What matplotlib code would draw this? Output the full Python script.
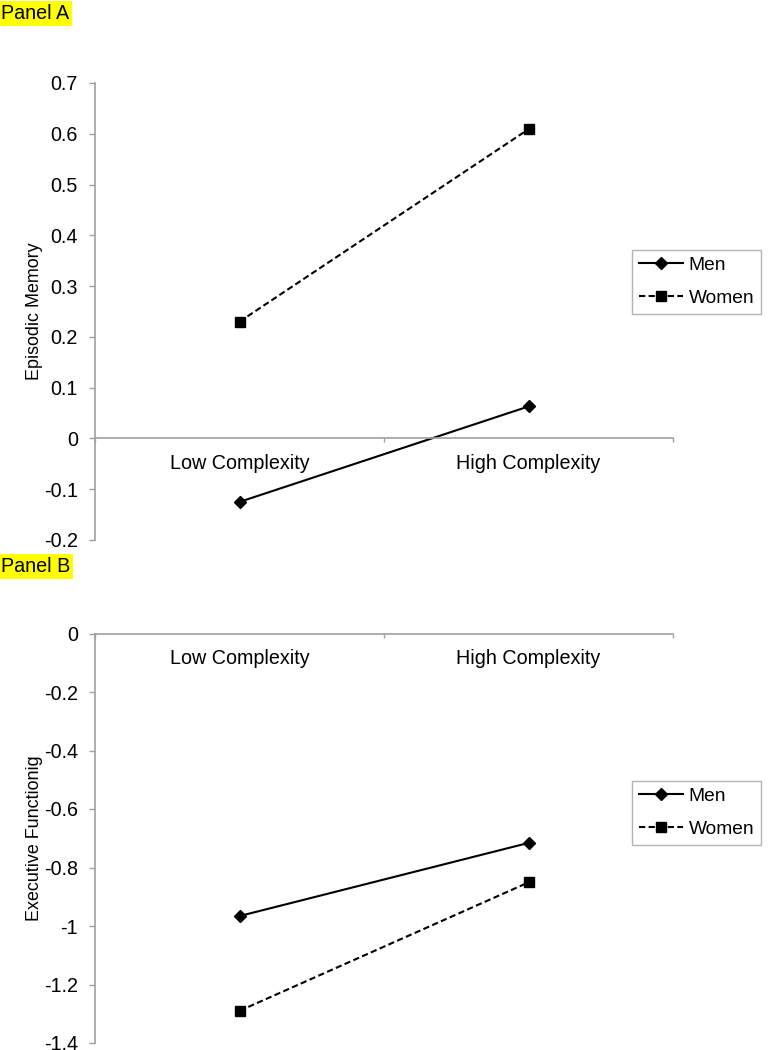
import matplotlib
matplotlib.use("Agg")
import matplotlib.pyplot as plt
from matplotlib.ticker import FixedLocator, NullFormatter

plt.rcParams['font.family'] = ['Liberation Sans', 'DejaVu Sans']

categories = ["Low Complexity", "High Complexity"]
series = ["Men", "Women"]

episodic_men = [-0.125, 0.063]
episodic_women = [0.230, 0.609]
exec_men = [-0.966, -0.716]
exec_women = [-1.290, -0.851]

ep_ticks = [-0.2, -0.1, 0, 0.1, 0.2, 0.3, 0.4, 0.5, 0.6, 0.7]
ep_ticklabels = ["-0.2", "-0.1", "0", "0.1", "0.2", "0.3", "0.4", "0.5", "0.6", "0.7"]
ex_ticks = [-1.4, -1.2, -1.0, -0.8, -0.6, -0.4, -0.2, 0]
ex_ticklabels = ["-1.4", "-1.2", "-1", "-0.8", "-0.6", "-0.4", "-0.2", "0"]

GRAY = "#a0a0a0"
FS = 14.2
LFS = 13.8

fig = plt.figure(figsize=(7.68, 10.5), dpi=100)

W = 1050.0
def ax_rect(top_px, bot_px, left_px=95, right_px=673):
    return [left_px / 768, 1 - bot_px / W, (right_px - left_px) / 768, (bot_px - top_px) / W]

axA = fig.add_axes(ax_rect(83, 540))
axB = fig.add_axes(ax_rect(633.5, 1043))

def style(ax, men, women, ticks, ticklabels, ylabel, leg_top_px):
    x = [0.5, 1.5]
    ax.plot(x, men, color="black", lw=1.5, marker="D", markersize=6,
            markerfacecolor="black", markeredgecolor="black", label=series[0])
    ax.plot(x, women, color="black", lw=1.5, ls=(0, (3, 1.6)), marker="s", markersize=7,
            markerfacecolor="black", markeredgecolor="black", label=series[1])
    ax.set_xlim(0, 2)
    ax.set_ylim(ticks[0], ticks[-1])
    ax.set_yticks(ticks)
    ax.set_yticklabels(ticklabels)
    for s in ["top", "right"]:
        ax.spines[s].set_visible(False)
    ax.spines["left"].set_color(GRAY)
    ax.spines["left"].set_linewidth(1.2)
    ax.spines["bottom"].set_position(("data", 0))
    ax.spines["bottom"].set_color(GRAY)
    ax.spines["bottom"].set_linewidth(1.2)
    ax.tick_params(axis="y", direction="out", length=4.3, width=1, color=GRAY,
                   labelsize=FS, pad=8)
    ax.xaxis.set_major_locator(FixedLocator([0, 1, 2]))
    ax.xaxis.set_major_formatter(NullFormatter())
    ax.xaxis.set_minor_locator(FixedLocator([0.5, 1.5]))
    ax.set_xticklabels(categories, minor=True)
    ax.tick_params(axis="x", which="major", direction="out", length=3, width=1, color=GRAY)
    ax.tick_params(axis="x", which="minor", length=0, labelsize=FS, pad=11)
    ax.set_ylabel(ylabel, fontsize=12.9)
    ax.yaxis.set_label_coords(-0.09, 0.5)
    leg = ax.legend(loc="upper left",
                    bbox_to_anchor=(632 / 768, 1 - leg_top_px / W),
                    bbox_transform=fig.transFigure,
                    fontsize=LFS, frameon=True, fancybox=False, numpoints=1,
                    handlelength=2.3, handletextpad=0.3, labelspacing=0.8,
                    borderpad=0.35, borderaxespad=0)
    leg.get_frame().set_edgecolor(GRAY)
    leg.get_frame().set_linewidth(1.0)

style(axA, episodic_men, episodic_women, ep_ticks, ep_ticklabels, "Episodic Memory", 250)
style(axB, exec_men, exec_women, ex_ticks, ex_ticklabels, "Executive Functionig", 781)

fig.text(0.001, 1 - 19 / W, "Panel A", fontsize=14.2, va="baseline", ha="left",
         bbox=dict(facecolor="#ffff00", edgecolor="none", pad=2.2))
fig.text(0.001, 1 - 572 / W, "Panel B", fontsize=14.2, va="baseline", ha="left",
         bbox=dict(facecolor="#ffff00", edgecolor="none", pad=2.2))

fig.savefig("out.png", dpi=100, facecolor="white")
